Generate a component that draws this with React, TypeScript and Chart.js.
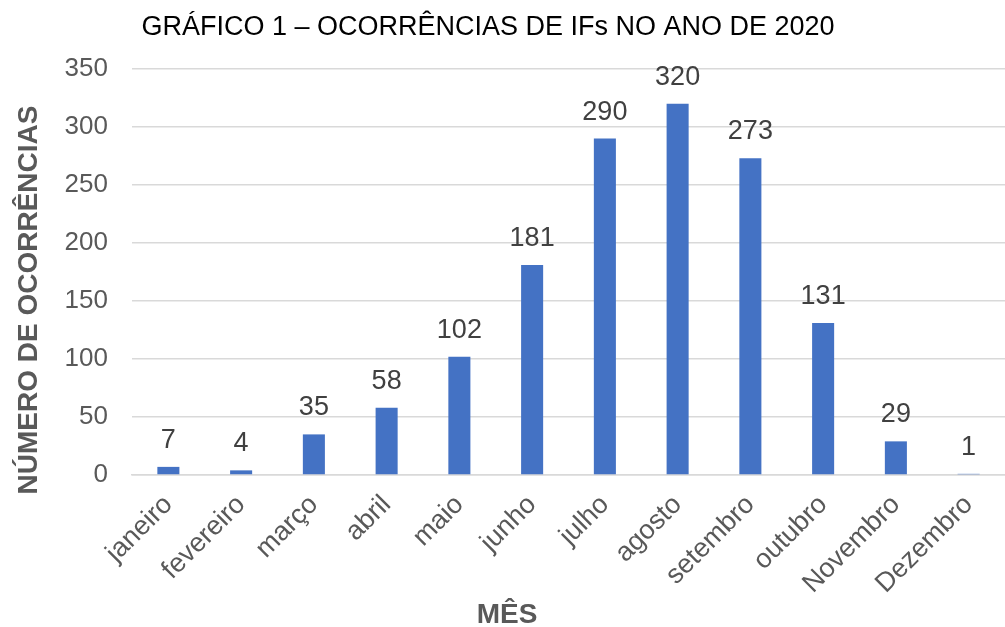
import React, { useEffect, useRef } from "react";
import { Chart, registerables } from "chart.js";

Chart.register(...registerables);

const months = [
  "janeiro",
  "fevereiro",
  "março",
  "abril",
  "maio",
  "junho",
  "julho",
  "agosto",
  "setembro",
  "outubro",
  "Novembro",
  "Dezembro",
];
const occurrences = [7, 4, 35, 58, 102, 181, 290, 320, 273, 131, 29, 1];
const chartTitle = "GRÁFICO 1 – OCORRÊNCIAS DE IFs NO ANO DE 2020";
const yAxisTitle = "NÚMERO DE OCORRÊNCIAS";
const xAxisTitle = "MÊS";
const yMin = 0;
const yMax = 350;
const yStep = 50;

const FONT = "Arial, 'Liberation Sans', sans-serif";
const GRAY = "#595959";

const textPlugin = {
  id: "customText",
  afterDatasetsDraw(chart: any) {
    const ctx = chart.ctx;
    const meta = chart.getDatasetMeta(0);
    ctx.save();
    ctx.font = `27px ${FONT}`;
    ctx.fillStyle = "#404040";
    ctx.textAlign = "center";
    ctx.textBaseline = "alphabetic";
    meta.data.forEach((bar: any, i: number) => {
      ctx.fillText(String(occurrences[i]), bar.x, bar.y - 19);
    });
    ctx.restore();
  },
  afterDraw(chart: any) {
    const ctx = chart.ctx;
    ctx.save();
    // main title
    ctx.font = `27px ${FONT}`;
    ctx.fillStyle = "#000000";
    ctx.textAlign = "center";
    ctx.textBaseline = "alphabetic";
    ctx.fillText(chartTitle, 488, 35);
    // x axis title
    ctx.font = `bold 28px ${FONT}`;
    ctx.fillStyle = GRAY;
    ctx.fillText(xAxisTitle, 507, 623);
    // y axis title
    ctx.translate(37, 300);
    ctx.rotate(-Math.PI / 2);
    ctx.fillText(yAxisTitle, 0, 0);
    ctx.restore();
  },
};

export default function App() {
  const canvasRef = useRef<HTMLCanvasElement | null>(null);

  useEffect(() => {
    const canvas = canvasRef.current;
    if (!canvas) return;
    const chart = new Chart(canvas, {
      type: "bar",
      data: {
        labels: months,
        datasets: [
          {
            data: occurrences,
            backgroundColor: "#4472C4",
            barPercentage: 0.303,
            categoryPercentage: 1,
          },
        ],
      },
      options: {
        responsive: false,
        animation: false,
        devicePixelRatio: 1,
        layout: { padding: { top: 69, left: 0, right: 0, bottom: 0 } },
        plugins: {
          legend: { display: false },
          tooltip: { enabled: false },
          title: { display: false },
        },
        scales: {
          x: {
            grid: { display: false, drawTicks: false },
            border: { display: true, color: "#D9D9D9", width: 1.5 },
            ticks: {
              autoSkip: false,
              maxRotation: 45,
              minRotation: 45,
              padding: 14,
              color: GRAY,
              font: { size: 27, family: FONT },
            },
            afterFit(scale: any) {
              scale.height = 627 - 69 - 406;
              scale.paddingLeft = 0;
              scale.paddingRight = 0;
            },
          },
          y: {
            min: yMin,
            max: yMax,
            grid: { color: "#D9D9D9", lineWidth: 1.5, drawTicks: false },
            border: { display: false },
            ticks: {
              stepSize: yStep,
              padding: 24,
              color: GRAY,
              font: { size: 26, family: FONT },
            },
            afterFit(scale: any) {
              scale.width = 132;
            },
          },
        },
      },
      plugins: [textPlugin],
    });
    return () => chart.destroy();
  }, []);

  return (
    <div style={{ position: "fixed", left: 0, top: 0, width: 1005, height: 627, background: "#fff" }}>
      <canvas ref={canvasRef} width={1005} height={627} style={{ display: "block" }} />
    </div>
  );
}
